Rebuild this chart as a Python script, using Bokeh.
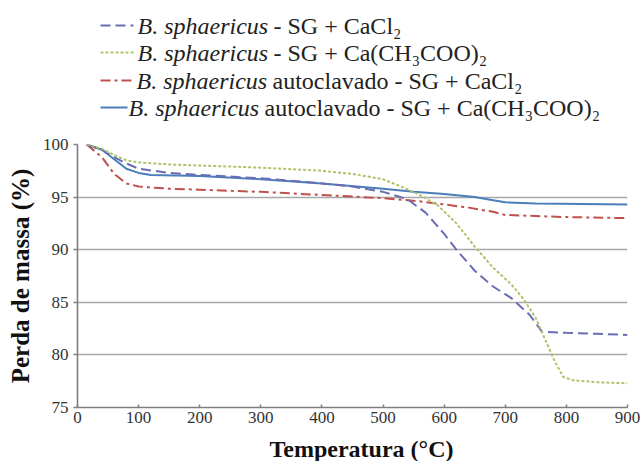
from bokeh.plotting import figure
from bokeh.layouts import column
from bokeh.models import Range1d, FixedTicker
from bokeh.core.properties import value
from bokeh.embed import file_html
from bokeh.resources import INLINE

# ---- data ----
t_cacl2 = [15, 40, 60, 80, 100, 150, 200, 300, 400, 450, 500, 540, 570, 600, 620, 650, 680, 710, 740, 760, 800, 850, 900]
m_cacl2 = [100, 99.5, 98.8, 98.2, 97.7, 97.3, 97.1, 96.8, 96.3, 96.0, 95.5, 94.8, 93.5, 91.5, 90.0, 88.0, 86.5, 85.4, 83.8, 82.2, 82.1, 82.0, 81.9]

t_acet = [15, 40, 60, 80, 100, 150, 200, 300, 400, 450, 500, 530, 560, 590, 620, 650, 680, 710, 730, 750, 765, 780, 795, 810, 850, 900]
m_acet = [100, 99.6, 99.0, 98.5, 98.3, 98.1, 98.0, 97.8, 97.5, 97.2, 96.7, 96.0, 95.2, 94.2, 92.5, 90.3, 88.3, 86.7, 85.3, 83.5, 81.5, 79.5, 77.9, 77.6, 77.4, 77.3]

t_auto_cacl2 = [15, 40, 60, 80, 100, 150, 200, 300, 400, 500, 560, 600, 640, 680, 700, 750, 800, 900]
m_auto_cacl2 = [100, 98.8, 97.2, 96.3, 96.0, 95.8, 95.7, 95.5, 95.2, 94.9, 94.6, 94.3, 94.0, 93.6, 93.3, 93.2, 93.1, 93.0]

t_auto_acet = [15, 40, 60, 80, 100, 120, 200, 300, 400, 500, 550, 600, 650, 680, 700, 750, 900]
m_auto_acet = [100, 99.5, 98.6, 97.7, 97.3, 97.1, 97.0, 96.7, 96.3, 95.8, 95.5, 95.3, 95.0, 94.7, 94.5, 94.4, 94.3]

x_ticks = [0, 100, 200, 300, 400, 500, 600, 700, 800, 900]
y_ticks = [75, 80, 85, 90, 95, 100]

x_title = "Temperatura (\u00b0C)"
y_title = "Perda de massa (%)"

legend_italic = ["B. sphaericus"] * 4
legend_rest = [" - SG +  CaCl\u2082",
               " - SG + Ca(CH\u2083COO)\u2082",
               " autoclavado  - SG + CaCl\u2082",
               " autoclavado - SG + Ca(CH\u2083COO)\u2082"]

# ---- styles ----
colors = ["#6a6db2", "#afc46a", "#c0504d", "#4a7ebb"]
dashes = ["10 5", "3 2", "10 4 3 4", "solid"]
widths = [2, 2, 2, 2]
FONT = "Liberation Serif"

W = 643
LEG_H = 125
BOT_H = 26
MAIN_H = 461 - LEG_H - BOT_H
BL, BR = 77, 16


def pixel_fig(h):
    f = figure(width=W, height=h, x_range=Range1d(BL, W - BR), y_range=Range1d(h, 0),
               output_backend="svg", toolbar_location=None, min_border=0,
               min_border_left=BL, min_border_right=BR)
    f.axis.visible = False
    f.grid.visible = False
    f.outline_line_color = None
    return f


# ---- legend figure (data units = page pixels) ----
leg = pixel_fig(LEG_H)
row_y = [25, 52, 80, 107]
line_end = [133, 133, 133, 127]
text_x = [137, 137, 136, 128]
fs = "24px"
for i in range(4):
    y = row_y[i]
    leg.line([100, line_end[i]], [y, y], line_color=colors[i], line_dash=dashes[i], line_width=widths[i])
    x0 = text_x[i]
    leg.text(x=[x0], y=[y], text=[legend_italic[i]], text_font=value(FONT),
             text_font_style="italic", text_font_size=fs, text_baseline="middle",
             text_color="#222222")
    leg.text(x=[x0 + 136], y=[y], text=[legend_rest[i]], text_font=value(FONT),
             text_font_size=fs, text_baseline="middle", text_color="#222222")

# ---- main figure ----
p = figure(width=W, height=MAIN_H, x_range=Range1d(0, 900), y_range=Range1d(75, 100),
           output_backend="svg", toolbar_location=None,
           min_border_left=BL, min_border_right=BR, min_border_top=19, min_border_bottom=28)
p.outline_line_color = None
p.xgrid.visible = False
p.ygrid.grid_line_color = "#a8a8a8"
p.ygrid.grid_line_width = 1.6
p.ygrid.ticker = FixedTicker(ticks=y_ticks)

p.xaxis.ticker = FixedTicker(ticks=x_ticks)
p.yaxis.ticker = FixedTicker(ticks=y_ticks)
for ax in (p.xaxis[0], p.yaxis[0]):
    ax.axis_line_color = "#7f7f7f"
    ax.axis_line_width = 1.6
    ax.major_tick_line_color = "#7f7f7f"
    ax.major_tick_line_width = 1.5
    ax.minor_tick_line_color = None
    ax.major_label_text_font = FONT
    ax.major_label_text_font_size = "17px"
    ax.major_label_text_color = "#333333"
p.xaxis.major_tick_in = 3
p.xaxis.major_tick_out = 0
p.yaxis.major_tick_in = 0
p.yaxis.major_tick_out = 4
p.xaxis.major_label_standoff = 4
p.yaxis.major_label_standoff = 5
p.yaxis.axis_label = y_title
p.yaxis.axis_label_text_font = FONT
p.yaxis.axis_label_text_font_style = "bold"
p.yaxis.axis_label_text_font_size = "25px"
p.yaxis.axis_label_text_color = "#111111"
p.yaxis.axis_label_standoff = 6

series = [(t_cacl2, m_cacl2), (t_acet, m_acet), (t_auto_cacl2, m_auto_cacl2), (t_auto_acet, m_auto_acet)]
order = [3, 2, 0, 1]
for i in order:
    t, m = series[i]
    p.line(t, m, line_color=colors[i], line_dash=dashes[i], line_width=widths[i])

# ---- x title strip ----
bot = pixel_fig(BOT_H)
bot.text(x=[361], y=[13], text=[x_title], text_font=value(FONT), text_font_style="bold",
         text_font_size="24px", text_align="center", text_baseline="middle", text_color="#111111")

layout = column(leg, p, bot, spacing=0)
open("out.html", "w").write(file_html(layout, INLINE))
